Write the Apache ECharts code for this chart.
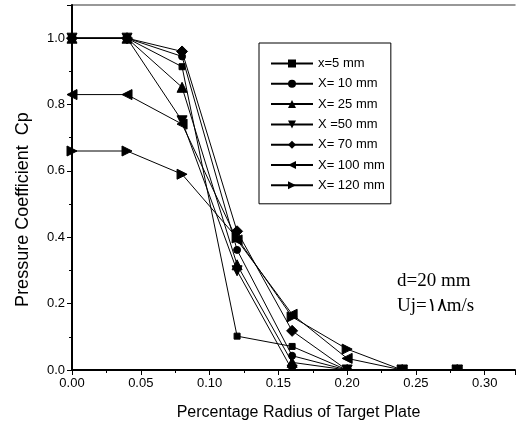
<!DOCTYPE html>
<html>
<head>
<meta charset="utf-8">
<script src="https://cdn.jsdelivr.net/npm/echarts@6/dist/echarts.min.js"></script>
<style>
  html, body { margin: 0; padding: 0; background: #fff; }
  #chart { width: 518px; height: 426px; }
</style>
</head>
<body>
<div id="chart"></div>
<script>
// Radial positions on the target plate (fraction of plate radius)
const radius = [0, 0.04, 0.08, 0.12, 0.16, 0.20, 0.24, 0.28];

// Pressure coefficient Cp for each nozzle-to-plate distance
const cpX5   = [1.0, 1.0, 0.914, 0.102, 0.071, 0, 0, 0];
const cpX10  = [1.0, 1.0, 0.945, 0.362, 0.043, 0, 0, 0];
const cpX25  = [1.0, 1.0, 0.852, 0.317, 0.023, 0, 0, 0];
const cpX50  = [1.0, 1.0, 0.751, 0.299, 0.0, 0, 0, 0];
const cpX70  = [1.0, 1.0, 0.960, 0.418, 0.118, 0, 0, 0];
const cpX100 = [0.83, 0.83, 0.741, 0.392, 0.168, 0.035, 0, 0];
const cpX120 = [0.66, 0.66, 0.590, 0.398, 0.160, 0.063, 0, 0];

const seriesNames = ['x=5 mm', 'X= 10 mm', 'X= 25 mm', 'X =50 mm', 'X= 70 mm', 'X= 100 mm', 'X= 120 mm'];

const xTickStep = 0.05;
const yTickStep = 0.2;
const xMax = 0.322;
const yMax = 1.1;

function pairs(ys) {
  return radius.map((r, i) => [r, ys[i]]);
}

function onStep(v, step) {
  const k = v / step;
  return Math.abs(k - Math.round(k)) < 1e-6;
}

const markerDefs = [
  { data: cpX5,   symbol: 'rect',     size: 6,  rotate: 0 },
  { data: cpX10,  symbol: 'circle',   size: 7,  rotate: 0 },
  { data: cpX25,  symbol: 'triangle', size: 10, rotate: 0 },
  { data: cpX50,  symbol: 'triangle', size: 10, rotate: 180 },
  { data: cpX70,  symbol: 'diamond',  size: 11, rotate: 0 },
  { data: cpX100, symbol: 'triangle', size: 10, rotate: 90 },
  { data: cpX120, symbol: 'triangle', size: 10, rotate: -90 }
];

const font = 'Arial, "Liberation Sans", sans-serif';

const chart = echarts.init(document.getElementById('chart'), null, { renderer: 'canvas' });

chart.setOption({
  animation: false,
  backgroundColor: '#fff',
  grid: { left: 72, top: 5, right: 0, bottom: 55 },
  xAxis: [{
    type: 'value',
    min: 0,
    max: xMax,
    interval: xTickStep,
    z: 10,
    name: 'Percentage Radius of Target Plate',
    nameLocation: 'middle',
    nameGap: 35,
    nameTextStyle: { fontFamily: font, fontSize: 16, color: '#000', padding: [0, 0, 0, 10] },
    axisLine: { lineStyle: { color: '#000', width: 2 } },
    axisTick: { inside: false, length: 5, lineStyle: { color: '#000', width: 1 } },
    minorTick: { show: true, splitNumber: 2, length: 3, lineStyle: { color: '#000', width: 1 } },
    splitLine: { show: false },
    axisLabel: {
      fontFamily: font, fontSize: 13, color: '#000', margin: 7,
      formatter: v => onStep(v, xTickStep) ? v.toFixed(2) : ''
    }
  }, {
    type: 'value',
    position: 'top',
    min: 0,
    max: xMax,
    axisLine: { onZero: false, lineStyle: { color: '#777', width: 1.5 } },
    axisTick: { show: false },
    axisLabel: { show: false },
    splitLine: { show: false }
  }],
  yAxis: {
    type: 'value',
    min: 0,
    max: yMax,
    interval: yTickStep,
    z: 10,
    axisLine: { lineStyle: { color: '#000', width: 2 } },
    axisTick: { length: 5, lineStyle: { color: '#000', width: 1 } },
    minorTick: { show: true, splitNumber: 2, length: 3, lineStyle: { color: '#000', width: 1 } },
    splitLine: { show: false },
    axisLabel: {
      fontFamily: font, fontSize: 13, color: '#000', margin: 7,
      formatter: v => onStep(v, yTickStep) ? v.toFixed(1) : ''
    }
  },
  legend: {
    orient: 'vertical',
    left: 259,
    top: 43,
    padding: [14, 6, 12, 11],
    itemWidth: 42,
    itemHeight: 10,
    itemGap: 7.3,
    borderColor: '#000',
    borderWidth: 1,
    backgroundColor: '#fff',
    textStyle: { fontFamily: font, fontSize: 13, color: '#000' },
    data: seriesNames
  },
  series: markerDefs.map((m, i) => ({
    name: seriesNames[i],
    type: 'line',
    data: pairs(m.data),
    symbol: m.symbol,
    symbolSize: m.size,
    symbolRotate: m.rotate,
    showAllSymbol: true,
    lineStyle: { color: '#000', width: 1 },
    itemStyle: { color: '#000', borderColor: '#000' },
    clip: false
  }))
});

// Markers sitting on Cp = 0 are cut off at the x-axis: a white band under the
// plot area hides their lower halves while the axis (higher z) stays on top.
const origin = chart.convertToPixel({ xAxisIndex: 0, yAxisIndex: 0 }, [0, 0]);
const farEnd = chart.convertToPixel({ xAxisIndex: 0, yAxisIndex: 0 }, [xMax, 0]);
const topLeft = chart.convertToPixel({ xAxisIndex: 0, yAxisIndex: 0 }, [0, yMax]);

chart.setOption({
  graphic: [{
    type: 'rect',
    z: 5,
    silent: true,
    shape: { x: origin[0] + 1, y: origin[1] + 1, width: farEnd[0] - origin[0], height: 8 },
    style: { fill: '#fff' }
  }, {
    type: 'text',
    z: 20,
    x: origin[0] - 49,
    y: (origin[1] + topLeft[1]) / 2 + 22,
    rotation: Math.PI / 2,
    style: {
      text: 'Pressure Coefficient  Cp',
      fontFamily: font,
      fontSize: 18,
      fill: '#000',
      align: 'center',
      verticalAlign: 'middle'
    }
  }, {
    type: 'text',
    z: 20,
    left: 397,
    top: 269,
    style: {
      text: 'd=20 mm\nUj=\u06F1\u06F8m/s',
      fontFamily: '"Liberation Serif", "Times New Roman", serif',
      fontSize: 19,
      lineHeight: 25,
      fill: '#000'
    }
  }]
});
</script>
</body>
</html>
